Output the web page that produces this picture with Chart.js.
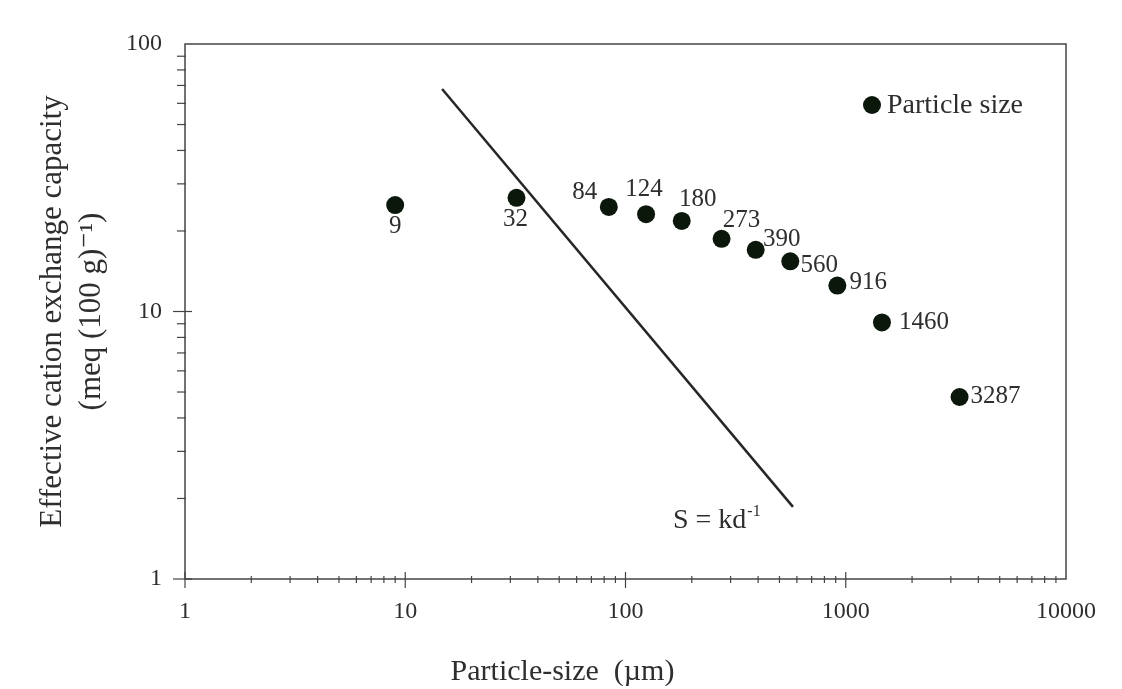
<!DOCTYPE html>
<html>
<head>
<meta charset="utf-8">
<script src="https://cdn.jsdelivr.net/npm/chart.js@4/dist/chart.umd.min.js"></script>
<style>
  html, body { margin: 0; padding: 0; background: #ffffff; }
  canvas { display: block; }
</style>
</head>
<body>
<canvas id="chart" width="1122" height="689"></canvas>
<script>
// ---- Data ----
const particleSizes = [9, 32, 84, 124, 180, 273, 390, 560, 916, 1460, 3287];
const ecec = [25.0, 26.6, 24.6, 23.1, 21.8, 18.7, 17.0, 15.4, 12.5, 9.1, 4.79];
const pointLabels = ['9', '32', '84', '124', '180', '273', '390', '560', '916', '1460', '3287'];
const lineX = [14.7, 576];
const lineY = [67.9, 1.86];
const xTickValues = [1, 10, 100, 1000, 10000];
const xTickLabels = ['1', '10', '100', '1000', '10000'];
const yTickValues = [1, 10, 100];
const yTickLabels = ['1', '10', '100'];
const seriesName = 'Particle size';
const xTitle = 'Particle-size  (\u00b5m)';
const yTitle = ['Effective cation exchange capacity', '(meq (100 g)\u207b\u00b9)'];
const lineLabelMain = 'S = kd';
const lineLabelSup = '-1';

// ---- Styling (label offsets in pixels relative to each point) ----
const labelOffsets = [[0, 21], [-1, 22], [-24, -14], [-2, -25], [16, -22], [20, -18],
                      [26, -10], [29, 4], [31, -3], [42, 0], [36, -1]];
const SERIF = '"Liberation Serif", "DejaVu Serif", serif';
const TEXT = '#2e2e2e';
const DOT = '#0b170b';

const frameAndTicks = {
  id: 'frameAndTicks',
  afterDraw(chart) {
    const ctx = chart.ctx;
    const a = chart.chartArea;
    ctx.save();
    ctx.strokeStyle = '#444444';
    ctx.lineWidth = 1.5;
    ctx.strokeRect(a.left, a.top, a.right - a.left, a.bottom - a.top);
    ctx.lineWidth = 1.2;
    const xs = chart.scales.x;
    for (let e = 0; e < 4; e++) {
      for (let m = 1; m <= 9; m++) {
        const px = xs.getPixelForValue(m * Math.pow(10, e));
        const major = m === 1;
        ctx.beginPath();
        ctx.moveTo(px, a.bottom - (major ? 7 : 3));
        ctx.lineTo(px, a.bottom + (major ? 9 : 4));
        ctx.stroke();
      }
    }
    const ys = chart.scales.y;
    for (let e = 0; e < 2; e++) {
      for (let m = 1; m <= 9; m++) {
        const py = ys.getPixelForValue(m * Math.pow(10, e));
        const major = m === 1;
        ctx.beginPath();
        ctx.moveTo(a.left - (major ? 12 : 8), py);
        ctx.lineTo(a.left + (major ? 7 : 1), py);
        ctx.stroke();
      }
    }
    // x axis title (offset to the left as in the original figure)
    ctx.fillStyle = TEXT;
    ctx.font = '30px ' + SERIF;
    ctx.textAlign = 'center';
    ctx.textBaseline = 'middle';
    ctx.fillText(xTitle, (a.left + a.right) / 2 - 63, a.bottom + 93);
    ctx.restore();
  }
};

const annotations = {
  id: 'annotations',
  afterDatasetsDraw(chart) {
    const ctx = chart.ctx;
    const a = chart.chartArea;
    ctx.save();
    ctx.fillStyle = TEXT;
    ctx.font = '25px ' + SERIF;
    ctx.textAlign = 'center';
    ctx.textBaseline = 'middle';
    const pts = chart.getDatasetMeta(0).data;
    pts.forEach((p, i) => {
      const off = labelOffsets[i];
      ctx.fillText(pointLabels[i], p.x + off[0], p.y + off[1]);
    });
    const lp = chart.getDatasetMeta(1).data[1];
    ctx.textAlign = 'left';
    ctx.textBaseline = 'alphabetic';
    ctx.font = '28px ' + SERIF;
    const bx = lp.x - 120, by = lp.y + 21;
    ctx.fillText(lineLabelMain, bx, by);
    const w = ctx.measureText(lineLabelMain).width;
    ctx.font = '16px ' + SERIF;
    ctx.fillText(lineLabelSup, bx + w + 1, by - 12);
    const lx = a.right - 194, ly = a.top + 61;
    ctx.fillStyle = DOT;
    ctx.beginPath();
    ctx.arc(lx, ly, 9, 0, Math.PI * 2);
    ctx.fill();
    ctx.fillStyle = TEXT;
    ctx.font = '28px ' + SERIF;
    ctx.textBaseline = 'middle';
    ctx.fillText(seriesName, lx + 15, ly + 1);
    ctx.restore();
  }
};

new Chart(document.getElementById('chart'), {
  type: 'scatter',
  data: {
    datasets: [
      {
        label: seriesName,
        data: particleSizes.map((x, i) => ({ x: x, y: ecec[i] })),
        backgroundColor: DOT,
        borderWidth: 0,
        pointRadius: 9,
        pointHoverRadius: 9
      },
      {
        type: 'line',
        label: 'S = kd-1',
        data: lineX.map((x, i) => ({ x: x, y: lineY[i] })),
        borderColor: '#262626',
        borderWidth: 2.5,
        pointRadius: 0,
        showLine: true,
        fill: false
      }
    ]
  },
  options: {
    responsive: false,
    animation: false,
    layout: { padding: { left: 0, top: 44, right: 56, bottom: 0 } },
    plugins: { legend: { display: false }, tooltip: { enabled: false } },
    scales: {
      x: {
        type: 'logarithmic',
        min: 1, max: 10000,
        afterFit(s) { s.height = 110; },
        afterBuildTicks(s) { s.ticks = xTickValues.map(v => ({ value: v, major: true })); },
        grid: { display: false, drawTicks: false },
        border: { display: false },
        ticks: {
          autoSkip: false, maxRotation: 0, padding: 18,
          color: TEXT, font: { family: SERIF, size: 24 },
          callback(v) { const i = xTickValues.indexOf(v); return i >= 0 ? xTickLabels[i] : ''; }
        },
        title: { display: false }
      },
      y: {
        type: 'logarithmic',
        min: 1, max: 100,
        afterFit(s) { s.width = 185; },
        afterBuildTicks(s) { s.ticks = yTickValues.map(v => ({ value: v, major: true })); },
        grid: { display: false, drawTicks: false },
        border: { display: false },
        ticks: {
          autoSkip: false, padding: 23,
          color: TEXT, font: { family: SERIF, size: 24 },
          callback(v) { const i = yTickValues.indexOf(v); return i >= 0 ? yTickLabels[i] : ''; }
        },
        title: {
          display: true,
          text: yTitle,
          color: TEXT, font: { family: SERIF, size: 31, lineHeight: 1.27 },
          padding: { top: 33, bottom: 0 }
        }
      }
    }
  },
  plugins: [frameAndTicks, annotations]
});
</script>
</body>
</html>
